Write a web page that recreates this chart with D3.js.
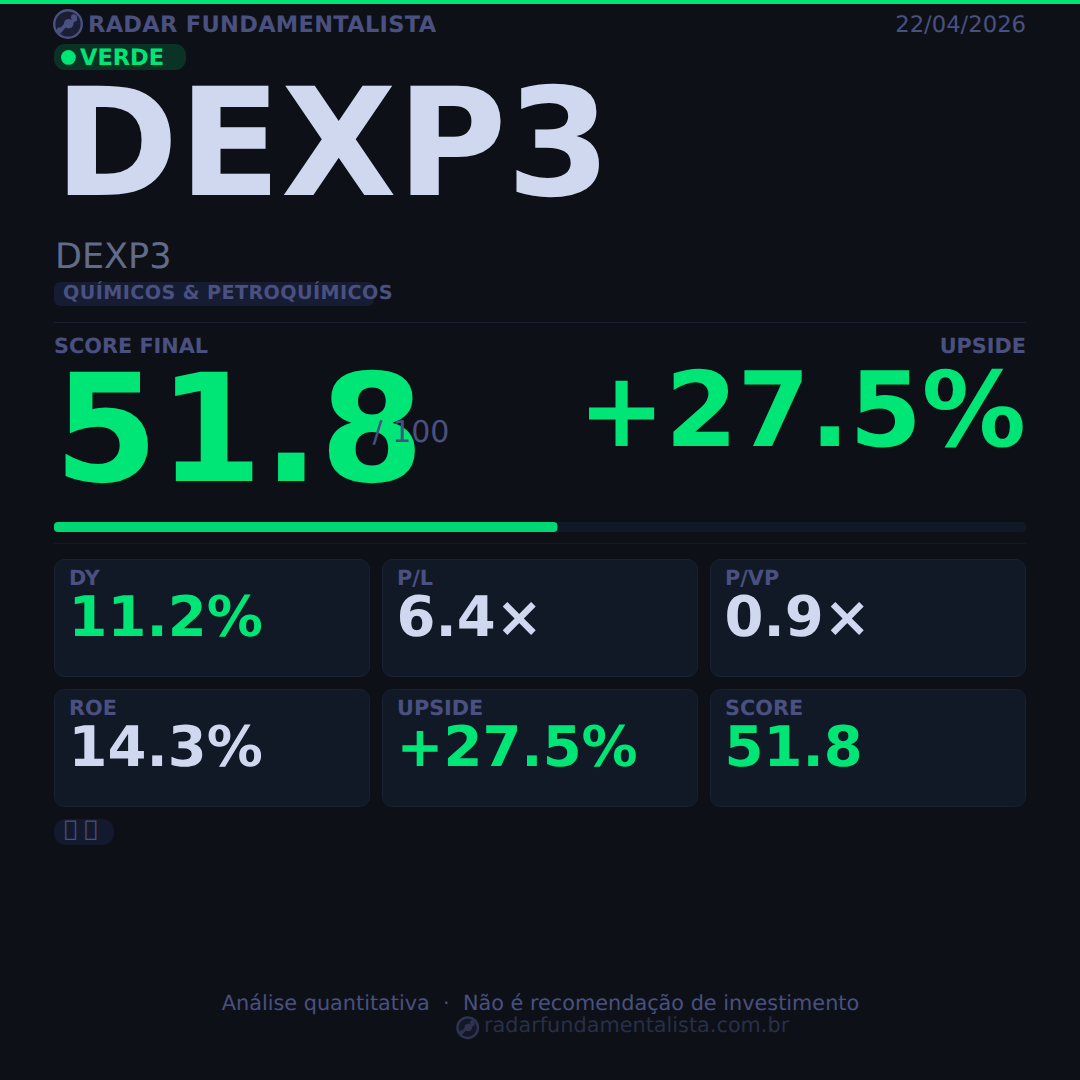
<!DOCTYPE html>
<html>
<head>
<meta charset="utf-8">
<script src="https://cdn.jsdelivr.net/npm/d3@7"></script>
<style>
  html, body { margin: 0; padding: 0; background: #0d1117; }
  svg { display: block; }
  text { font-family: "DejaVu Sans", sans-serif; white-space: pre; text-rendering: geometricPrecision; }
</style>
</head>
<body>
<div id="chart"></div>
<script>
var brand = "RADAR FUNDAMENTALISTA";
var reportDate = "22/04/2026";
var signal = "VERDE";
var ticker = "DEXP3";
var sector = "QUÍMICOS & PETROQUÍMICOS";
var score = 51.8;
var scoreMax = 100;
var upside = "+27.5%";
var metricLabels = ["DY", "P/L", "P/VP", "ROE", "UPSIDE", "SCORE"];
var metricValues = ["11.2%", "6.4×", "0.9×", "14.3%", "+27.5%", "51.8"];
var metricGreen = [true, false, false, false, true, true];
var tags = "\uE000 \uE001"; // no font has these, same empty boxes as the reference
var footerNote = "Análise quantitativa  ·  Não é recomendação de investimento";
var footerSite = "radarfundamentalista.com.br";

var green = "#00e676", muted = "#4a5080", white = "#d0d8f0", cardBg = "#111927";

var svg = d3.select("#chart").append("svg").attr("width", 1080).attr("height", 1080);
svg.append("rect").attr("width", 1080).attr("height", 1080).attr("fill", "#0d1117");
svg.append("rect").attr("width", 1080).attr("height", 4).attr("fill", green);

function label(x, y, txt, size, fill, weight, anchor) {
  return svg.append("text").attr("x", x).attr("y", y).text(txt)
    .attr("font-size", size).attr("fill", fill)
    .attr("font-weight", weight || "normal")
    .attr("text-anchor", anchor || "start");
}

// little radar logo, header and footer
function logo(cx, cy, r, col, op) {
  var g = svg.append("g").attr("transform", "translate(" + cx + "," + cy + ")").attr("opacity", op);
  g.append("circle").attr("r", r - 1.2).attr("fill", "#1a1f33").attr("stroke", col).attr("stroke-width", 2.4);
  g.append("path").attr("d", d3.line()([[-r * 0.6, r * 0.55], [-r * 0.15, r * 0.05], [r * 0.5, -r * 0.3]]))
    .attr("fill", "none").attr("stroke", col).attr("stroke-width", r * 0.24).attr("stroke-linecap", "round");
  g.append("circle").attr("cx", r * 0.05).attr("cy", -r * 0.02).attr("r", r * 0.32).attr("fill", col);
  g.append("circle").attr("cx", r * 0.4).attr("cy", -r * 0.45).attr("r", r * 0.2).attr("fill", col);
  g.append("circle").attr("cx", -r * 0.55).attr("cy", r * 0.4).attr("r", r * 0.18).attr("fill", col);
}

logo(68, 24, 15, muted, 1);
label(88, 32, brand, 22.5, muted, "bold").attr("letter-spacing", 0.3);
label(1026, 32, reportDate, 22.7, muted, "normal", "end");

svg.append("rect").attr("x", 54).attr("y", 44).attr("width", 132).attr("height", 26).attr("rx", 11).attr("fill", "#0a3326");
svg.append("circle").attr("cx", 68.4).attr("cy", 57.4).attr("r", 7.4).attr("fill", green);
label(80, 64.5, signal, 22.5, green, "bold");

label(54, 195, ticker, 150, white, "bold");
label(55, 267.5, ticker, 35, "#636b8a");

svg.append("rect").attr("x", 54).attr("y", 282).attr("width", 320).attr("height", 24).attr("rx", 6).attr("fill", "#161d33");
label(63, 299, sector, 19.2, muted, "bold").attr("letter-spacing", 0.4);

svg.append("rect").attr("x", 54).attr("y", 322).attr("width", 972).attr("height", 1).attr("fill", "#1a1e30");

label(54, 353, "SCORE FINAL", 20.8, muted, "bold");
label(1026, 353, "UPSIDE", 20.8, muted, "bold", "end");
label(54, 481, d3.format(".1f")(score), 150, green, "bold");
label(372.5, 442, "/ " + scoreMax, 30, muted);
label(1026, 446, upside, 104, green, "bold", "end");

// score bar
var barX = d3.scaleLinear().domain([0, scoreMax]).range([54, 1026]);
svg.append("rect").attr("x", barX(0)).attr("y", 522).attr("width", barX(scoreMax) - barX(0)).attr("height", 10).attr("rx", 4).attr("fill", "#111927");
svg.append("rect").attr("x", barX(0)).attr("y", 522).attr("width", barX(score) - barX(0)).attr("height", 10).attr("rx", 4).attr("fill", "#00d873");
svg.append("rect").attr("x", 54).attr("y", 543).attr("width", 972).attr("height", 1).attr("fill", "#141824");

// metric cards
var col = d3.scaleBand().domain([0, 1, 2]).range([54, 1026]).paddingInner(0.0366);
var row = d3.scaleBand().domain([0, 1]).range([559, 807]).paddingInner(0.0923);

var cards = svg.selectAll(".card").data(metricLabels).enter().append("g")
  .attr("class", "card")
  .attr("transform", function(d, i) { return "translate(" + col(i % 3) + "," + row(Math.floor(i / 3)) + ")"; });
cards.append("rect")
  .attr("x", 0.5).attr("y", 0.5)
  .attr("width", col.bandwidth() - 1).attr("height", row.bandwidth() - 1).attr("rx", 10)
  .attr("fill", cardBg).attr("stroke", "#1a2233");
cards.append("text").attr("x", 15).attr("y", 26).text(function(d) { return d; })
  .attr("font-size", 20.8).attr("font-weight", "bold").attr("fill", muted);
cards.append("text").attr("x", 14.5).attr("y", 77).text(function(d, i) { return metricValues[i]; })
  .attr("font-size", 56).attr("font-weight", "bold")
  .attr("fill", function(d, i) { return metricGreen[i] ? green : white; });

// tag pill
svg.append("rect").attr("x", 54).attr("y", 819).attr("width", 60).attr("height", 26).attr("rx", 12).attr("fill", "#141a2d");
label(64, 836, tags, 22, muted);

// footer
label(540.5, 1010, footerNote, 20.8, muted, "normal", "middle");
logo(467.7, 1027.7, 11.5, muted, 0.55);
label(484, 1031.5, footerSite, 20.8, "#2a2e48");
</script>
</body>
</html>
